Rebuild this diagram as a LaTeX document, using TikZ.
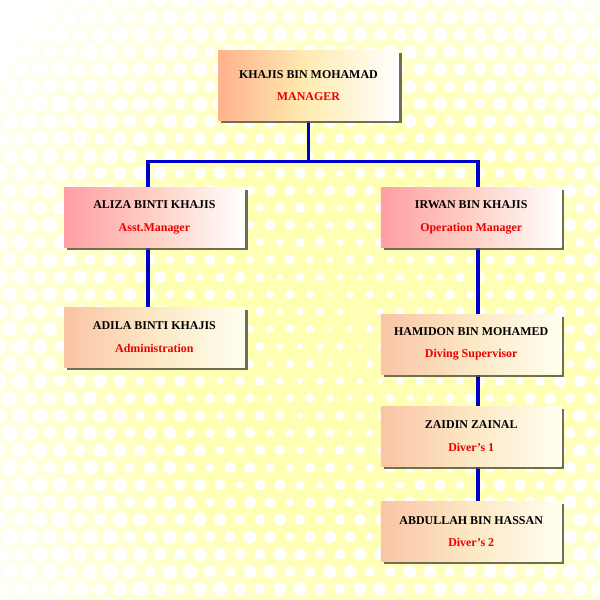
\documentclass[tikz,border=0pt]{standalone}
\usepackage{fontspec}
\setmainfont{Liberation Serif}
\usetikzlibrary{shadows}
\pgfdeclarelayer{dots}
\pgfdeclarelayer{wires}
\pgfsetlayers{dots,wires,main}
\definecolor{paleyellow}{RGB}{255,255,180}
\definecolor{linkblue}{RGB}{0,0,205}
\definecolor{salmon}{RGB}{255,178,140}
\definecolor{salmonmid}{RGB}{255,236,178}
\definecolor{rosepink}{RGB}{255,158,165}
\definecolor{rosemid}{RGB}{255,208,196}
\definecolor{peach}{RGB}{250,196,166}
\definecolor{peachmid}{RGB}{252,232,196}
\definecolor{shadowgray}{RGB}{85,85,65}
\definecolor{rolered}{RGB}{235,0,0}
\begin{document}
\begin{tikzpicture}[thick,
	staff/.style={minimum width=4.52cm, minimum height=1.5cm, inner sep=0pt, align=center,
		font=\fontsize{8.5}{16}\selectfont\bfseries,
		drop shadow={shadow xshift=2pt, shadow yshift=-2pt, fill=shadowgray, opacity=0.85}},
	headbox/.style={staff, minimum height=1.75cm, left color=salmon, right color=white, middle color=salmonmid},
	deputybox/.style={staff, left color=rosepink, right color=white, middle color=rosemid},
	crewbox/.style={staff, left color=peach, right color=yellow!6, middle color=peachmid},
	link/.style={linkblue, line width=2.2pt}]
	\useasboundingbox (0,0) rectangle (15,-15);
	% dotted yellow background
	\begin{pgfonlayer}{dots}
		\begin{scope}
			\clip (0,0) rectangle (15,-15);
			\foreach \k in {0,...,24}{
				\pgfmathsetmacro\pct{min(100,4.5*\k)}
				\fill[paleyellow!\pct!white] (9,-8.5) circle ({12-0.3*\k});
			}
			\foreach \i in {0,...,30}
			\foreach \j in {0,...,35}{
				\pgfmathsetmacro\px{0.5*\i+0.25*mod(\j,2)}
				\pgfmathsetmacro\py{-0.433*\j}
				\pgfmathsetmacro\r{min(0.24, 0.04+0.012*veclen(\px-9,\py+8.5)+0.05*abs(sin(47*\i+83*\j)))}
				\fill[white] (\px,\py) circle (\r);
			}
		\end{scope}
	\end{pgfonlayer}
	
	% boxes
	\node[headbox] (khajis) at (7.71,-2.14) {KHAJIS BIN MOHAMAD\\\textcolor{rolered}{MANAGER}};
	\node[deputybox] (aliza) at (3.86,-5.43) {ALIZA BINTI KHAJIS\\\textcolor{rolered}{Asst.Manager}};
	\node[crewbox] (adila) at (3.86,-8.43) {ADILA BINTI KHAJIS\\\textcolor{rolered}{Administration}};
	\node[deputybox] (irwan) at (11.78,-5.43) {IRWAN BIN KHAJIS\\\textcolor{rolered}{Operation Manager}};
	\node[crewbox] (hamidon) at (11.78,-8.6) {HAMIDON BIN MOHAMED\\\textcolor{rolered}{Diving Supervisor}};
	\node[crewbox] (zaidin) at (11.78,-10.9) {ZAIDIN ZAINAL\\\textcolor{rolered}{Diver’s 1}};
	\node[crewbox] (abdullah) at (11.78,-13.29) {ABDULLAH BIN HASSAN\\\textcolor{rolered}{Diver’s 2}};
	
	% blue links behind the boxes
	\coordinate (busL) at (3.7,-4.03);
	\coordinate (busR) at (11.95,-4.03);
	\begin{pgfonlayer}{wires}
		\draw[link] (khajis.center) -- (khajis.center |- busL);
		\draw[link] (busL |- adila.center) -- (busL) -- (busR) -- (busR |- abdullah.center);
	\end{pgfonlayer}
\end{tikzpicture}
\end{document}
